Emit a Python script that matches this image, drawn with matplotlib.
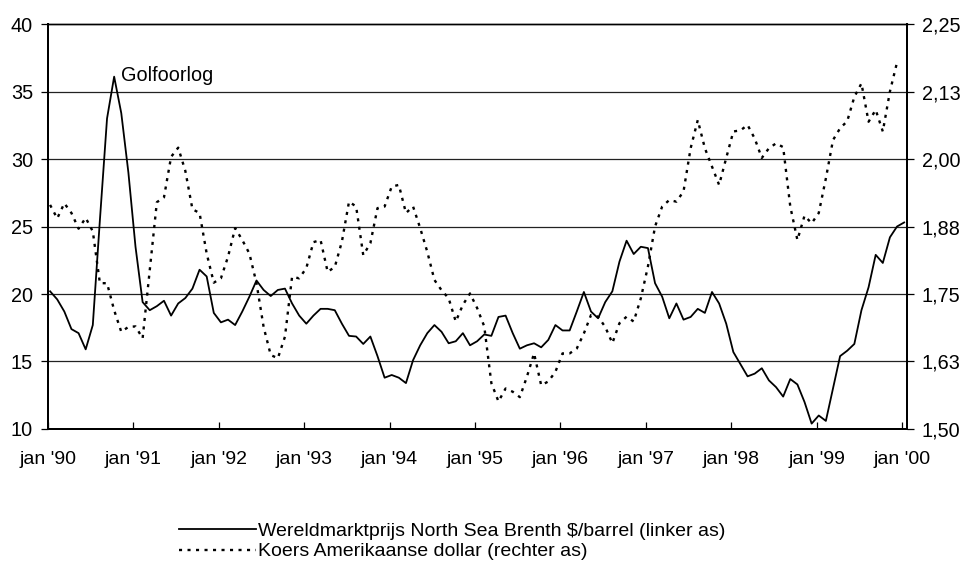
import matplotlib.pyplot as plt
import numpy as np

plt.rcParams['font.family'] = ['Liberation Sans', 'DejaVu Sans']

# maandgemiddelden jan 1990 - jan 2000
olieprijs = [
    20.2, 19.6, 18.7, 17.4, 17.1, 15.9, 17.7, 25.5, 33.0, 36.1, 33.4, 29.0,
    23.5, 19.4, 18.8, 19.1, 19.5, 18.4, 19.3, 19.7, 20.4, 21.8, 21.3, 18.6,
    17.9, 18.1, 17.7, 18.7, 19.8, 21.0, 20.3, 19.85, 20.3, 20.4, 19.3, 18.4,
    17.8, 18.4, 18.9, 18.9, 18.8, 17.8, 16.9, 16.85, 16.3, 16.85, 15.4, 13.8,
    14.0, 13.8, 13.4, 15.1, 16.2, 17.1, 17.7, 17.2, 16.35, 16.5, 17.1, 16.2,
    16.5, 17.0, 16.9, 18.3, 18.4, 17.1, 15.95, 16.2, 16.35, 16.05, 16.6, 17.7,
    17.3, 17.3, 18.7, 20.15, 18.7, 18.2, 19.4, 20.2, 22.4, 23.95, 22.96, 23.5,
    23.4, 20.8, 19.8, 18.2, 19.3, 18.1, 18.3, 18.9, 18.6, 20.15, 19.3, 17.8,
    15.7, 14.8, 13.9, 14.1, 14.5, 13.6, 13.1, 12.4, 13.7, 13.3, 12.0, 10.4,
    11.0, 10.6, 13.0, 15.4, 15.8, 16.3, 18.8, 20.5, 22.9, 22.3, 24.2, 25.0,
    25.3,
]

dollarkoers = [
    1.915, 1.890, 1.918, 1.900, 1.871, 1.891, 1.866, 1.770, 1.770, 1.720,
    1.680, 1.689, 1.690, 1.668, 1.794, 1.920, 1.929, 2.004, 2.021, 1.978,
    1.907, 1.900, 1.825, 1.771, 1.779, 1.819, 1.872, 1.850, 1.825, 1.770,
    1.689, 1.637, 1.631, 1.671, 1.782, 1.779, 1.798, 1.846, 1.850, 1.791,
    1.800, 1.847, 1.921, 1.912, 1.822, 1.844, 1.909, 1.912, 1.949, 1.952,
    1.900, 1.912, 1.872, 1.828, 1.776, 1.757, 1.742, 1.699, 1.730, 1.751,
    1.724, 1.690, 1.585, 1.551, 1.575, 1.569, 1.559, 1.597, 1.640, 1.581,
    1.588, 1.606, 1.640, 1.640, 1.649, 1.677, 1.711, 1.708, 1.689, 1.659,
    1.696, 1.708, 1.699, 1.742, 1.801, 1.875, 1.912, 1.924, 1.921, 1.940,
    2.020, 2.072, 2.020, 1.986, 1.952, 2.002, 2.051, 2.053, 2.063, 2.038,
    2.002, 2.020, 2.029, 2.022, 1.912, 1.850, 1.895, 1.881, 1.900, 1.964,
    2.035, 2.057, 2.070, 2.115, 2.140, 2.069, 2.091, 2.051, 2.125, 2.179,
]

jaar_labels = ["jan '90", "jan '91", "jan '92", "jan '93", "jan '94", "jan '95",
               "jan '96", "jan '97", "jan '98", "jan '99", "jan '00"]
links_ticks = [10, 15, 20, 25, 30, 35, 40]
rechts_ticks = [1.5, 1.625, 1.75, 1.875, 2.0, 2.125, 2.25]
rechts_labels = ['1,50', '1,63', '1,75', '1,88', '2,00', '2,13', '2,25']

stippel = (0, (1.3, 2.3))

fig = plt.figure(figsize=(9.65, 5.61), dpi=100)
ax = fig.add_axes([0.0497, 0.2353, 0.8902, 0.7219])
ax2 = ax.twinx()

maanden = np.arange(len(olieprijs))
ax.plot(maanden, olieprijs, color='black', lw=1.3, zorder=3)
ax2.plot(np.arange(len(dollarkoers)), dollarkoers, color='black', lw=1.7,
         linestyle=stippel, zorder=3)

ax.set_xlim(-0.3, 120.4)
ax.set_ylim(10, 40)
ax2.set_ylim(1.5, 2.25)

ax.set_yticks(links_ticks)
ax.set_yticklabels([str(t) for t in links_ticks])
ax2.set_yticks(rechts_ticks)
ax2.set_yticklabels(rechts_labels)
ax.set_xticks(np.arange(0, 121, 12) - 0.3)
ax.set_xticklabels(jaar_labels)

for t in links_ticks[1:-1]:
    ax.axhline(t, color='#222222', lw=0.9, zorder=1)

ax.tick_params(axis='x', direction='in', length=5, width=0.9, labelsize=14, pad=16)
ax.tick_params(axis='y', direction='out', length=4.7, width=0.9, labelsize=14.3, pad=6)
ax2.tick_params(axis='y', direction='out', length=4.7, width=0.9, labelsize=14.3, pad=6)

for a in (ax, ax2):
    for s in a.spines.values():
        s.set_linewidth(1.0)
    a.spines['left'].set_linewidth(1.4)
    a.spines['right'].set_linewidth(1.4)
    a.spines['bottom'].set_linewidth(1.4)

ax.text(10.0, 35.75, 'Golfoorlog', fontsize=14.3, ha='left', va='baseline')

l1, = ax.plot([], [], color='black', lw=1.3)
l2, = ax.plot([], [], color='black', lw=1.7, linestyle=stippel)
fig.legend([l1, l2],
           ['Wereldmarktprijs North Sea Brenth $/barrel (linker as)',
            'Koers Amerikaanse dollar (rechter as)'],
           loc='upper left', bbox_to_anchor=(0.177, 0.083), frameon=False,
           fontsize=14, handlelength=4.0, handletextpad=0.1,
           labelspacing=0.15, borderaxespad=0)

fig.savefig('out.png', dpi=100)
